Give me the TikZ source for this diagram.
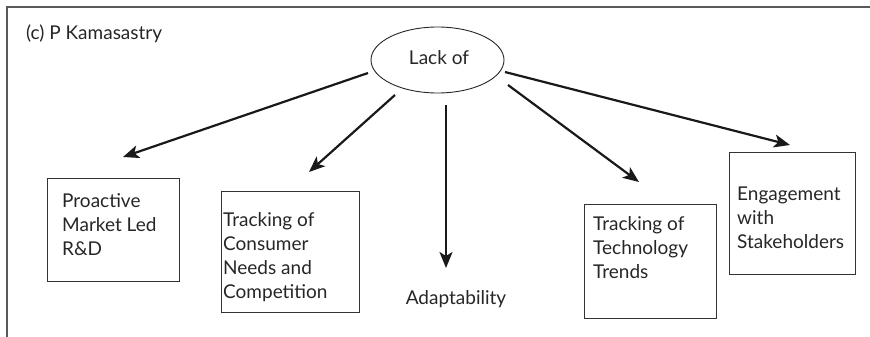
\documentclass[tikz,border=0pt]{standalone}
\usepackage{fontspec}
\setmainfont{Lato}
\usetikzlibrary{arrows.meta,shapes.geometric}
\begin{document}
\begin{tikzpicture}[x=1pt,y=-1pt,
  every node/.style={font=\fontsize{19}{24}\selectfont, text=black!85},
  frame/.style={draw=black!65, line width=1.4pt},
  item/.style={draw=black!80, line width=0.9pt, anchor=north west, inner sep=0pt},
  label/.style={anchor=north west, align=left, inner sep=0pt},
  arr/.style={draw=black!90, line width=2.2pt,
    -{Stealth[length=16pt,width=13pt,inset=4pt]}}]
\useasboundingbox (0,0) rectangle (870,337);
% outer frame: top and left edges only
\draw[frame] (870,7) -- (7,7) -- (7,337);
\node[anchor=base west, inner sep=0pt] (credit) at (26,39.3) {(c) P Kamasastry};
% central term
\node[draw=black!85, line width=0.9pt, ellipse, minimum width=133pt,
  minimum height=66pt, inner sep=0pt] (lack) at (437.5,60) {};
\node[anchor=base, inner sep=0pt] (lackt) at (439,64) {Lack of};
% outcome boxes
\node[item, minimum width=132pt, minimum height=103pt] (rd) at (47,178) {};
\node[label] (rdt) at (62,193) {Proactive\\Market Led\\R\&D};
\node[item, minimum width=138pt, minimum height=121pt] (cons) at (221,191) {};
\node[label] (const) at (223,212.5) {Tracking of\\Consumer\\Needs and\\Competition};
\node[anchor=base, inner sep=0pt] (adapt) at (456,304) {Adaptability};
\node[item, minimum width=132pt, minimum height=114pt] (tech) at (584,204) {};
\node[label] (techt) at (593,216.5) {Tracking of\\Technology\\Trends};
\node[item, minimum width=126pt, minimum height=122pt] (stake) at (729,152) {};
\node[label] (staket) at (737,186.5) {Engagement\\with\\Stakeholders};
% arrow ends
\coordinate (s1) at (368,73);  \coordinate (t1) at (123,157);
\coordinate (s2) at (395,95);  \coordinate (t2) at (309,172);
\coordinate (s3) at (446,105); \coordinate (t3) at (446,268);
\coordinate (s4) at (508,85);  \coordinate (t4) at (639,182);
\coordinate (s5) at (505,72);  \coordinate (t5) at (790,145);
\draw[arr] (s1) -- (t1);
\draw[arr] (s2) -- (t2);
\draw[arr] (s3) -- (t3);
\draw[arr] (s4) -- (t4);
\draw[arr] (s5) -- (t5);
\end{tikzpicture}
\end{document}
